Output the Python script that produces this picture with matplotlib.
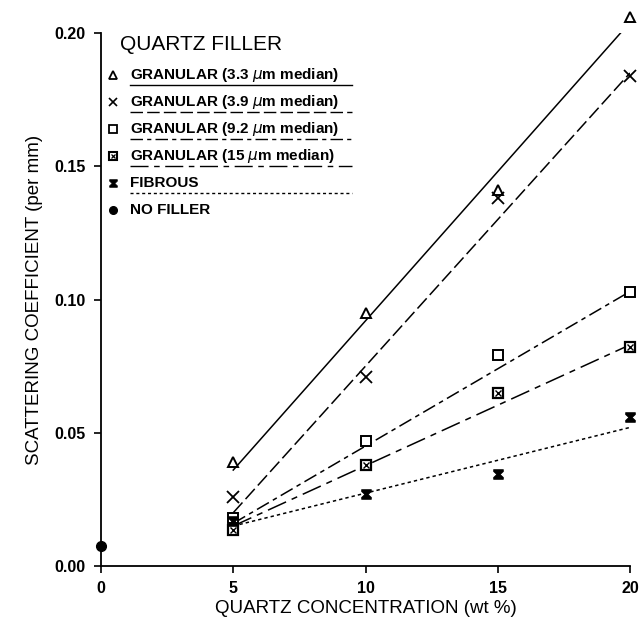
import matplotlib
matplotlib.use("Agg")
import matplotlib.pyplot as plt
from matplotlib.path import Path
from matplotlib.lines import Line2D

plt.rcParams["font.family"] = ["Liberation Sans", "DejaVu Sans"]

# ===================== data =====================
conc = [5, 10, 15, 20]
gran_33 = [0.039, 0.095, 0.141, 0.206]
gran_39 = [0.026, 0.071, 0.138, 0.184]
gran_92 = [0.018, 0.047, 0.079, 0.103]
gran_15 = [0.0135, 0.038, 0.065, 0.082]
fibrous = [0.017, 0.027, 0.0345, 0.056]
no_filler_x = [0]
no_filler_y = [0.0075]

# fitted lines (end points)
fit_x = [5, 20]
fit_33 = [0.036, 0.204]
fit_39 = [0.020, 0.185]
fit_92 = [0.016, 0.103]
fit_15 = [0.015, 0.083]
fit_fib = [0.015, 0.052]

labels = ["GRANULAR (3.3 $\\mu$m median)", "GRANULAR (3.9 $\\mu$m median)",
          "GRANULAR (9.2 $\\mu$m median)", "GRANULAR (15 $\\mu$m median)",
          "FIBROUS", "NO FILLER"]

# hourglass marker for fibrous
hg = Path([(-1, 1), (1, 1), (1, 0.6), (0.35, 0), (1, -0.6), (1, -1),
           (-1, -1), (-1, -0.6), (-0.35, 0), (-1, 0.6), (-1, 1)])

ls_33 = "-"
ls_39 = (0, (9, 3))
ls_92 = (0, (9, 3, 3, 3))
ls_15 = (0, (13, 4, 4, 4))
ls_fib = (0, (2.2, 2))

fig = plt.figure(figsize=(6.4, 6.22), dpi=100)
ax = fig.add_axes([101 / 640, 1 - 566 / 622, 529 / 640, 533 / 622])

kw = dict(color="black", lw=1.1)
ax.plot(fit_x, fit_33, ls=ls_33, **kw)
ax.plot(fit_x, fit_39, ls=ls_39, **kw)
ax.plot(fit_x, fit_92, ls=ls_92, **kw)
ax.plot(fit_x, fit_15, ls=ls_15, **kw)
ax.plot(fit_x, fit_fib, ls=ls_fib, **kw)

mk = dict(ls="none", color="black", clip_on=False, zorder=5)
ax.plot(conc, gran_33, marker="^", ms=7, mfc="white", mew=1.4, **mk)
ax.plot(conc, gran_39, marker="x", ms=8, mew=1.3, **mk)
ax.plot(conc, gran_92, marker="s", ms=7, mfc="white", mew=1.4, **mk)
ax.plot(conc, gran_15, marker="s", ms=7, mfc="white", mew=1.6, **mk)
ax.plot(conc, gran_15, marker="x", ms=4, mew=1.0, **mk)
ax.plot(conc, fibrous, marker=hg, ms=7, mfc="black", mew=0.5, **mk)
ax.plot(no_filler_x, no_filler_y, marker="o", ms=7, **mk)

ax.set_xlim(0, 20)
ax.set_ylim(0, 0.20)
ax.set_xticks([0, 5, 10, 15, 20])
ax.set_yticks([0.00, 0.05, 0.10, 0.15, 0.20])
ax.set_yticklabels(["0.00", "0.05", "0.10", "0.15", "0.20"])
ax.tick_params(axis="both", direction="out", length=5, width=1.2,
               labelsize=11.5, pad=6)
for t in ax.get_xticklabels() + ax.get_yticklabels():
    t.set_fontweight("bold")
for s in ["top", "right"]:
    ax.spines[s].set_visible(False)
for s in ["left", "bottom"]:
    ax.spines[s].set_linewidth(1.3)

ax.set_xlabel("QUARTZ CONCENTRATION (wt %)", fontsize=13.5, labelpad=3)
ax.set_ylabel("SCATTERING COEFFICIENT (per mm)", fontsize=13.5, labelpad=8)

# ===================== legend (hand drawn like the original) =====================
def fx(px):
    return px / 640

def fy(py):
    return 1 - py / 622

fig.text(fx(120), fy(45), "QUARTZ FILLER", fontsize=15, va="center")
rows = [75, 102, 129, 156, 183, 210]
styles = [ls_33, ls_39, ls_92, ls_15, ls_fib, None]
for i, (lab, st, py) in enumerate(zip(labels, styles, rows)):
    fig.text(fx(130), fy(py), lab, fontsize=11, fontweight="bold", va="center")
    if st is not None:
        fig.add_artist(Line2D([fx(130), fx(352)], [fy(py + 10), fy(py + 10)],
                              transform=fig.transFigure, color="black",
                              lw=1.0, ls=st))

lk = dict(transform=fig.transFigure, ls="none", color="black")
fig.add_artist(Line2D([fx(113)], [fy(rows[0])], marker="^", ms=5.5, mfc="white", mew=1.3, **lk))
fig.add_artist(Line2D([fx(113)], [fy(rows[1])], marker="x", ms=6, mew=1.2, **lk))
fig.add_artist(Line2D([fx(113)], [fy(rows[2])], marker="s", ms=5.5, mfc="white", mew=1.3, **lk))
fig.add_artist(Line2D([fx(113)], [fy(rows[3])], marker="s", ms=5.5, mfc="white", mew=1.5, **lk))
fig.add_artist(Line2D([fx(113)], [fy(rows[3])], marker="x", ms=3, mew=0.9, **lk))
fig.add_artist(Line2D([fx(113)], [fy(rows[4])], marker=hg, ms=5.5, mfc="black", mew=0.5, **lk))
fig.add_artist(Line2D([fx(113)], [fy(rows[5])], marker="o", ms=5.5, **lk))

fig.savefig("out.png", dpi=100)
